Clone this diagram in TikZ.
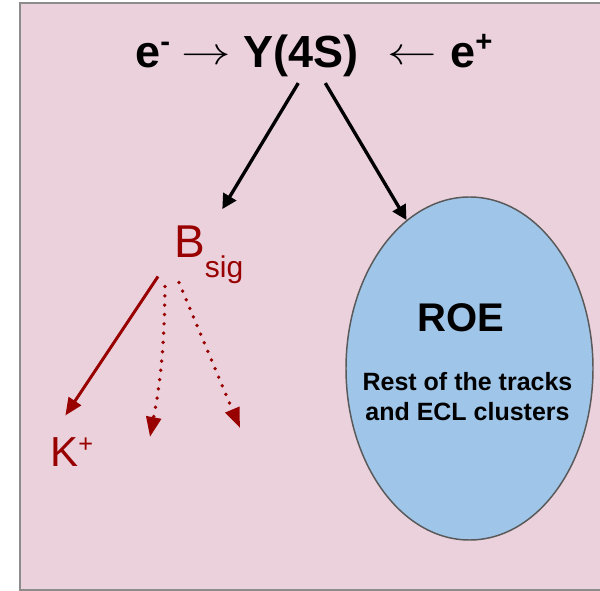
\documentclass[tikz,border=0pt]{standalone}
\usepackage{fix-cm}
\usepackage{graphicx}
\usepackage{fontspec}
\setmainfont{Liberation Sans}
\usetikzlibrary{arrows.meta,calc,shapes.geometric}
\definecolor{bgpink}{HTML}{EAD1DC}
\definecolor{framegray}{HTML}{8C8C8C}
\definecolor{sigred}{HTML}{990000}
\definecolor{roeblue}{HTML}{9FC5E8}
\definecolor{roeline}{HTML}{595959}
\begin{document}
\begin{tikzpicture}[x=0.75pt,y=-0.75pt,
ttl/.style={inner sep=0,font=\bfseries\fontsize{33.75}{33.75}\selectfont},
ttlarr/.style={inner sep=0,font=\fontsize{29}{29}\selectfont},
blkarr/.style={line width=2.5pt,-{Triangle[length=11pt,width=11pt]}},
redarr/.style={sigred,line width=2.25pt,-{Triangle[length=13pt,width=11pt]}},
reddot/.style={sigred,line width=2.8pt,line cap=round,dash pattern=on 0pt off 7pt,-{Triangle[length=15pt,width=11pt]}},
roeshape/.style={ellipse,draw=roeline,line width=1.1pt,fill=roeblue,minimum width=185.25pt,minimum height=257.25pt,inner sep=0}]
\useasboundingbox(0,0)rectangle(600,591);
\draw[fill=bgpink,draw=framegray,line width=1.2pt](20,3)rectangle(640,590);
\node[ttl,anchor=base west](em)at(135,68){e\raisebox{12pt}{\fontsize{22}{22}\selectfont -}};
\node[ttlarr](tor)at(206,57){\scalebox{1.28}[1]{$\rightarrow$}};
\node[ttl,anchor=base west](ups)at(243,68){Y(4S)};
\node[ttlarr](tol)at(412,57){\scalebox{1.28}[1]{$\leftarrow$}};
\node[ttl,anchor=base west](ep)at(450,68){e\raisebox{12pt}{\fontsize{22}{22}\selectfont +}};
\node[inner sep=0,anchor=base west,text=sigred,font=\fontsize{34.5}{34.5}\selectfont](bsig)at(174,258){B\raisebox{-15pt}{\fontsize{22.5}{22.5}\selectfont sig}};
\node[inner sep=0,anchor=base west,text=sigred,font=\fontsize{31.5}{31.5}\selectfont](kp)at(50,467){K\raisebox{11pt}{\fontsize{19}{19}\selectfont +}};
\node[roeshape](roe)at(469.5,368.5){};
\node[anchor=base,inner sep=0,font=\bfseries\fontsize{30}{30}\selectfont](roename)at(461,332){ROE};
\node[anchor=base,inner sep=0,align=center,font=\bfseries\fontsize{18.75}{22.5}\selectfont](roedesc)at(467.5,421){Rest of the tracks\\and ECL clusters};
\coordinate(dota)at(150,437);\coordinate(dotb)at(240,428);
\draw[blkarr]($(ups.south)+(-2.5,5.5)$)--($(bsig.north)+(13.5,-17)$);
\draw[blkarr]($(ups.south)+(24.5,5.5)$)--(roe.113);
\draw[redarr]($(bsig.south west)+(-16,-8)$)--($(kp.north)+(-6.3,-22)$);
\draw[reddot]($(bsig.south west)+(-9,2)$)to[bend left=5](dota);
\draw[reddot]($(bsig.south west)+(5,-2)$)--(dotb);
\end{tikzpicture}
\end{document}
